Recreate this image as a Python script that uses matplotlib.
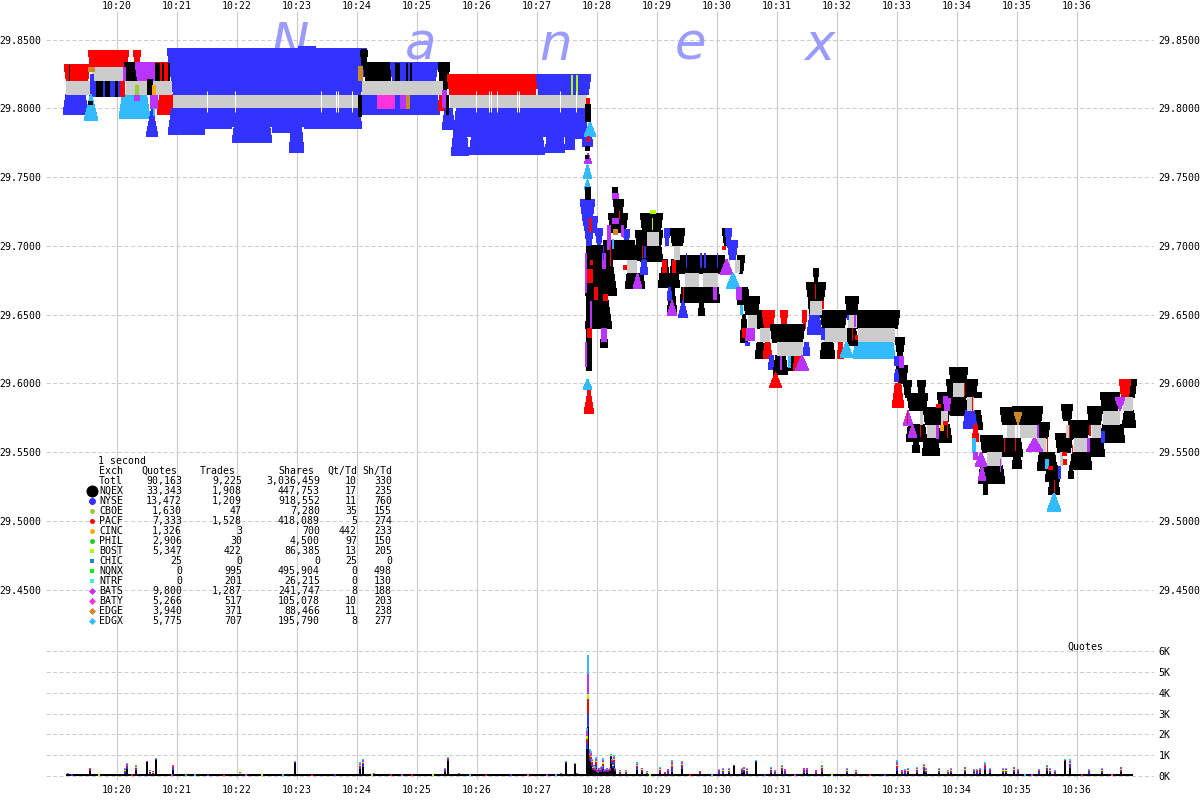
import numpy as np
import matplotlib
matplotlib.use("Agg")
import matplotlib.pyplot as plt

# time axis: seconds after 10:18:03, one second per pixel
TICK_SECONDS = [117, 177, 237, 297, 357, 417, 477, 537, 597, 657, 717, 777, 837, 897, 957, 1017, 1077]
TICK_LABELS = ["10:20", "10:21", "10:22", "10:23", "10:24", "10:25", "10:26", "10:27", "10:28",
               "10:29", "10:30", "10:31", "10:32", "10:33", "10:34", "10:35", "10:36"]
PRICE_TICKS = [29.85, 29.80, 29.75, 29.70, 29.65, 29.60, 29.55, 29.50, 29.45]
COUNT_TICKS = [0, 1000, 2000, 3000, 4000, 5000, 6000]
COUNT_LABELS = ["0K", "1K", "2K", "3K", "4K", "5K", "6K"]

COLORS = {"NQEX": "#000000", "NYSE": "#3333ff", "CBOE": "#99cc33", "PACF": "#ff0000", "CINC": "#ffaa00",
          "PHIL": "#22cc22", "BOST": "#aaff00", "CHIC": "#1e88cc", "NQNX": "#00ee00", "NTRF": "#33ffbb",
          "BATS": "#bb33ff", "BATY": "#ff33dd", "EDGE": "#cc8822", "EDGX": "#33bbff"}

# NBBO spread: start, end, bid (ask is one cent above)
SPREADS = [(66, 90, 29.81), (92, 123, 29.82), (126, 172, 29.81), (173, 358, 29.80), (362, 443, 29.81),
           (450, 587, 29.80), (627, 637, 29.68), (647, 659, 29.70), (674, 680, 29.69), (685, 699, 29.67),
           (703, 718, 29.67), (725, 730, 29.68), (735, 740, 29.68), (748, 757, 29.64), (760, 770, 29.63),
           (777, 803, 29.62), (810, 822, 29.65), (824, 847, 29.63), (848, 857, 29.64), (858, 895, 29.63),
           (920, 923, 29.57), (927, 938, 29.56), (941, 948, 29.57), (953, 964, 29.59), (967, 974, 29.58),
           (987, 1002, 29.54), (1007, 1015, 29.56), (1020, 1037, 29.56), (1037, 1046, 29.55),
           (1060, 1063, 29.54), (1066, 1069, 29.56), (1074, 1088, 29.55), (1092, 1101, 29.56),
           (1103, 1120, 29.57), (1123, 1133, 29.58)]

# offers: start, end, price, displayed size, exchange
ASK_QUOTES = [
    (64, 90, 29.82, 16, "PACF"), (88, 129, 29.83, 17, "PACF"), (133, 141, 29.83, 17, "PACF"),
    (124, 141, 29.82, 18, "NQEX"), (135, 157, 29.82, 18, "BATS"), (155, 172, 29.82, 18, "PACF"),
    (167, 367, 29.81, 46, "NYSE"), (298, 316, 29.81, 48, "NYSE"), (360, 368, 29.83, 17, "NQEX"),
    (363, 393, 29.82, 18, "NQEX"), (390, 438, 29.82, 18, "NYSE"), (438, 450, 29.81, 32, "NQEX"),
    (447, 538, 29.81, 20, "PACF"), (536, 591, 29.81, 20, "NYSE"),
    (580, 595, 29.715, 26, "NYSE"), (584, 594, 29.70, 22, "NYSE"),
    (612, 618, 29.738, 6, "NQEX"), (612, 619, 29.734, 6, "BATS"), (613, 624, 29.724, 13, "NQEX"),
    (608, 628, 29.71, 19, "NQEX"), (623, 630, 29.70, 16, "NYSE"), (595, 603, 29.70, 17, "NYSE"),
    (590, 598, 29.71, 16, "NYSE"), (603, 635, 29.69, 19, "NQEX"), (625, 642, 29.69, 14, "NQEX"),
    (640, 663, 29.71, 19, "NQEX"), (650, 656, 29.7235, 3, "BOST"), (635, 663, 29.70, 15, "NQEX"),
    (664, 670, 29.70, 17, "NYSE"), (670, 685, 29.70, 17, "NQEX"), (678, 725, 29.68, 18, "NQEX"),
    (722, 731, 29.70, 17, "NQEX"), (725, 732, 29.70, 17, "NYSE"), (727, 738, 29.69, 19, "NYSE"),
    (737, 745, 29.68, 18, "NQEX"), (743, 760, 29.65, 18, "NQEX"), (755, 775, 29.64, 18, "NQEX"),
    (762, 775, 29.64, 18, "PACF"), (780, 788, 29.64, 18, "PACF"), (802, 807, 29.64, 18, "PACF"),
    (770, 805, 29.63, 18, "NQEX"), (813, 819, 29.673, 14, "NQEX"), (806, 826, 29.66, 18, "NQEX"),
    (808, 822, 29.65, 13, "NQEX"), (820, 847, 29.64, 18, "NQEX"), (845, 859, 29.65, 18, "NQEX"),
    (847, 900, 29.64, 18, "NQEX"), (895, 905, 29.62, 18, "NQEX"), (896, 908, 29.60, 18, "NQEX"),
    (903, 912, 29.59, 17, "NQEX"), (917, 926, 29.59, 17, "NQEX"), (907, 928, 29.58, 17, "NQEX"),
    (923, 950, 29.57, 17, "NQEX"), (937, 952, 29.58, 18, "NQEX"), (943, 951, 29.58, 14, "BATS"),
    (949, 968, 29.60, 16, "NQEX"), (946, 978, 29.59, 18, "NQEX"), (967, 982, 29.59, 5, "NQEX"),
    (980, 1003, 29.55, 17, "NQEX"), (1000, 1017, 29.57, 17, "NQEX"), (1012, 1043, 29.57, 18, "NQEX"),
    (1035, 1050, 29.56, 16, "NQEX"), (1055, 1073, 29.55, 19, "NQEX"), (1061, 1073, 29.5733, 16, "NQEX"),
    (1068, 1090, 29.56, 18, "NQEX"), (1087, 1103, 29.57, 18, "NQEX"), (1100, 1120, 29.58, 18, "NQEX"),
    (1122, 1137, 29.59, 18, "NQEX"), (1119, 1131, 29.59, 18, "PACF"),
]

# bids: start, end, price, displayed size, exchange
BID_QUOTES = [
    (63, 88, 29.81, 20, "NYSE"), (89, 124, 29.82, 16, "NYSE"), (119, 150, 29.81, 24, "EDGX"),
    (157, 175, 29.81, 20, "PACF"), (168, 205, 29.80, 26, "NYSE"), (205, 232, 29.80, 20, "NYSE"),
    (232, 272, 29.80, 34, "NYSE"), (272, 292, 29.80, 24, "NYSE"), (289, 304, 29.80, 44, "NYSE"),
    (304, 362, 29.80, 20, "NYSE"), (170, 360, 29.80, 18, "NYSE"), (360, 440, 29.81, 20, "NYSE"),
    (438, 445, 29.81, 16, "PACF"),
    (442, 455, 29.80, 21, "NYSE"), (451, 469, 29.80, 47.5, "NYSE"), (469, 545, 29.80, 46, "NYSE"),
    (545, 565, 29.80, 44, "NYSE"), (565, 575, 29.80, 41, "NYSE"), (575, 588, 29.80, 30, "NYSE"),
    (456, 586, 29.80, 28, "NYSE"), (582, 593, 29.78, 11, "NYSE"),
    (585, 617, 29.70, 50, "NQEX"), (585, 612, 29.665, 35, "NQEX"), (600, 608, 29.64, 19, "NQEX"),
    (640, 663, 29.70, 16, "NQEX"), (635, 647, 29.71, 28, "NQEX"),
    (625, 645, 29.68, 15, "NQEX"), (640, 648, 29.69, 15, "NYSE"), (660, 670, 29.69, 24, "NQEX"),
    (670, 680, 29.69, 14, "NQEX"), (658, 680, 29.68, 14, "NQEX"), (667, 677, 29.67, 28, "NQEX"),
    (667, 672, 29.67, 13, "NYSE"), (680, 720, 29.67, 15, "NQEX"), (698, 705, 29.66, 15, "NQEX"),
    (737, 750, 29.67, 17, "NQEX"), (740, 748, 29.65, 28, "NQEX"), (755, 765, 29.63, 16, "NQEX"),
    (763, 772, 29.63, 16, "PACF"), (768, 775, 29.62, 14, "NYSE"), (773, 788, 29.62, 19, "NQEX"),
    (788, 800, 29.62, 15, "NQEX"), (793, 802, 29.62, 15, "PACF"), (803, 810, 29.63, 13, "NYSE"),
    (807, 822, 29.65, 20, "NYSE"), (820, 835, 29.63, 16, "NQEX"), (837, 844, 29.63, 16, "PACF"),
    (853, 895, 29.63, 16, "EDGX"), (845, 858, 29.64, 17, "NQEX"), (892, 904, 29.60, 24, "PACF"),
    (894, 899, 29.61, 12, "NYSE"), (906, 927, 29.57, 17, "NQEX"), (922, 952, 29.56, 3, "NQEX"),
    (922, 940, 29.56, 17, "NQEX"), (912, 920, 29.56, 14, "NQEX"), (938, 952, 29.57, 18, "NQEX"),
    (950, 968, 29.59, 18, "NQEX"), (973, 983, 29.58, 19, "NQEX"), (963, 977, 29.58, 18, "NYSE"),
    (972, 979, 29.57, 17, "PACF"), (978, 1005, 29.54, 18, "NQEX"), (983, 988, 29.53, 15, "NQEX"),
    (1000, 1023, 29.56, 18, "NQEX"), (1012, 1022, 29.55, 16, "NQEX"), (1037, 1057, 29.55, 18, "NQEX"),
    (1045, 1060, 29.54, 16, "NQEX"), (1048, 1060, 29.53, 15, "NQEX"), (1070, 1092, 29.55, 17, "NQEX"),
    (1087, 1105, 29.56, 18, "NQEX"), (1100, 1125, 29.57, 18, "NQEX"), (1122, 1136, 29.58, 17, "NQEX"),
    (1068, 1074, 29.54, 13, "NQEX"),
]

# single quotes: start, end, price, size (positive offer, negative bid), exchange
SINGLE_QUOTES = [
    (84, 98, 29.81, -26, "EDGX"), (146, 158, 29.80, -28, "NYSE"), (584, 596, 29.79, -14, "EDGX"),
    (584, 592, 29.767, -10, "BATS"), (583, 592, 29.759, -14, "EDGX"), (584, 591, 29.748, -10, "EDGX"),
    (584, 594, 29.5975, -27, "PACF"), (583, 592, 29.603, -10, "EDGX"), (633, 642, 29.68, -15, "BATS"),
    (667, 677, 29.66, -15, "BATS"), (678, 688, 29.66, -17, "NYSE"), (720, 733, 29.69, -15, "BATS"),
    (726, 740, 29.68, -15, "EDGX"), (840, 853, 29.63, -15, "EDGX"), (769, 782, 29.6075, -15, "PACF"),
    (795, 809, 29.62, -15, "BATS"), (903, 913, 29.58, -15, "BATS"), (908, 917, 29.57, -13, "BATS"),
    (975, 987, 29.55, -14, "BATS"), (978, 986, 29.54, -15, "BATS"), (1047, 1061, 29.52, -18, "EDGX"),
    (1026, 1043, 29.56, -13, "BATS"), (1014, 1022, 29.57, 12, "EDGE"), (1115, 1125, 29.58, 13, "BATS"),
]

# short-lived quotes painted over the spread: start, end, price, size, exchange
THIN_QUOTES = [
    (69, 70, 29.82, 16, "NQEX"), (96, 103, 29.82, -16, "NQEX"), (105, 110, 29.82, -16, "NQEX"),
    (115, 118, 29.82, -16, "NQEX"), (120, 125, 29.82, -16, "PACF"), (88, 95, 29.83, -5, "EDGE"),
    (90, 94, 29.825, -15, "NYSE"), (88, 93, 29.805, -4, "NQEX"), (123, 126, 29.83, -14, "BATS"),
    (155, 160, 29.82, 18, "NQEX"), (162, 164, 29.82, 18, "NQEX"), (168, 170, 29.82, 18, "NQEX"),
    (135, 139, 29.81, 10, "CBOE"), (147, 153, 29.81, 16, "NQEX"), (152, 156, 29.81, 10, "CINC"),
    (150, 158, 29.81, -14, "BATS"), (153, 155, 29.80, -8, "EDGX"), (134, 140, 29.81, -6, "BATS"),
    (361, 367, 29.84, 4, "NQEX"), (358, 363, 29.82, 15, "EDGE"), (395, 400, 29.82, 18, "NQEX"),
    (406, 408, 29.82, 18, "NQEX"), (410, 412, 29.82, 18, "NQEX"), (377, 385, 29.81, -14, "BATY"),
    (385, 395, 29.81, -14, "BATY"), (400, 408, 29.81, -14, "BATS"), (406, 410, 29.81, -14, "EDGE"),
    (358, 362, 29.81, -22, "NQEX"), (439, 445, 29.81, -14, "PACF"), (442, 447, 29.80, 18, "BATS"),
    (446, 449, 29.81, -20, "NQEX"), (571, 573, 29.81, 20, "BOST"), (576, 578, 29.81, 20, "BOST"),
    (586, 590, 29.8075, -7, "PACF"), (585, 591, 29.803, -18, "NQEX"), (587, 590, 29.78, -6, "PACF"),
    (585, 590, 29.7726, -5, "NQEX"), (585, 589, 29.766, -4, "NQEX"),
    (585, 591, 29.743, -13, "NQEX"), (586, 592, 29.70, -125, "NQEX"), (585, 587, 29.695, -40, "BATS"),
    (585, 587, 29.63, -25, "BATS"), (590, 592, 29.66, -30, "BATS"), (587, 593, 29.683, -14, "PACF"),
    (587, 592, 29.64, -10, "PACF"), (590, 593, 29.69, -5, "PACF"), (594, 598, 29.67, -13, "PACF"),
    (603, 608, 29.665, -7, "PACF"), (601, 607, 29.64, -14, "BATS"), (602, 606, 29.695, -16, "BATS"),
    (607, 611, 29.715, -25, "BATS"), (603, 604, 29.70, -14, "NYSE"), (610, 611, 29.70, -20, "PACF"),
    (589, 592, 29.72, -14, "PACF"), (612, 619, 29.72, -6, "BATS"), (613, 618, 29.712, -6, "EDGE"),
    (612, 614, 29.705, -10, "EDGX"), (619, 620, 29.725, -8, "PACF"), (621, 624, 29.715, -12, "BATS"),
    (642, 643, 29.70, -12, "PACF"), (644, 646, 29.70, -12, "NYSE"), (652, 653, 29.72, -12, "BOST"),
    (662, 667, 29.69, -13, "PACF"), (672, 676, 29.69, -13, "PACF"), (623, 627, 29.686, -5, "PACF"),
    (683, 684, 29.67, -13, "PACF"), (713, 717, 29.67, -13, "BATS"), (686, 687, 29.695, -15, "NYSE"),
    (700, 702, 29.695, -15, "NYSE"), (704, 706, 29.695, -15, "NYSE"), (717, 718, 29.695, -15, "NYSE"),
    (722, 726, 29.70, -4, "PACF"), (736, 742, 29.67, -13, "BATS"), (740, 743, 29.65, 10, "EDGX"),
    (745, 755, 29.64, -13, "BATS"), (745, 750, 29.63, -4, "NYSE"), (742, 746, 29.64, -10, "PACF"),
    (815, 816, 29.672, -15, "PACF"), (822, 824, 29.66, -8, "PACF"), (852, 853, 29.64, -13, "PACF"),
    (855, 858, 29.635, -5, "PACF"), (854, 856, 29.65, -12, "BATS"), (847, 849, 29.65, -5, "NYSE"),
    (821, 825, 29.64, -12, "NYSE"), (780, 782, 29.62, -14, "BATS"), (788, 791, 29.62, -12, "EDGX"),
    (907, 908, 29.58, -13, "PACF"), (920, 921, 29.57, -12, "PACF"), (947, 948, 29.57, -13, "PACF"),
    (964, 965, 29.60, -13, "PACF"), (972, 973, 29.59, -15, "PACF"), (1004, 1005, 29.56, -14, "PACF"),
    (1015, 1016, 29.56, -13, "PACF"), (1047, 1048, 29.56, -14, "PACF"), (1054, 1055, 29.53, -13, "PACF"),
    (1063, 1067, 29.545, -6, "PACF"), (1069, 1070, 29.57, -13, "PACF"), (1072, 1073, 29.555, -8, "PACF"),
    (1089, 1091, 29.57, -11, "PACF"), (1037, 1039, 29.57, -13, "BATS"), (1087, 1090, 29.56, -14, "BATS"),
    (936, 939, 29.57, -14, "BATS"), (1000, 1001, 29.545, -13, "BATS"), (1101, 1105, 29.565, -12, "NYSE"),
    (972, 976, 29.56, -15, "EDGX"), (1045, 1049, 29.545, -10, "EDGX"), (1048, 1053, 29.54, -4, "PACF"),
    (1058, 1061, 29.54, -13, "NYSE"), (1062, 1067, 29.55, -4, "PACF"), (973, 978, 29.55, -8, "BATS"),
    (894, 899, 29.62, -10, "NYSE"), (899, 904, 29.62, -12, "BATS"), (936, 941, 29.585, -4, "PACF"),
    (943, 948, 29.57, 4, "PACF"), (940, 944, 29.57, -6, "CINC"),
]

# momentary gaps in the quoted spread
GAP_SECONDS = [207, 235, 321, 336, 338, 352, 476, 489, 491, 497, 517, 519, 560, 576]

# one-second quote counts
QUOTE_SECONDS = [68, 90, 125, 127, 136, 147, 150, 153, 156, 173,
                 240, 295, 360, 363, 374, 378, 445, 448, 459, 534,
                 561, 566, 575, 577, 587, 588, 590, 591, 596, 601,
                 603, 607, 611, 614, 620, 626, 637, 642, 647, 660,
                 665, 668, 672, 682, 700, 719, 723, 729, 734, 742,
                 744, 747, 756, 771, 775, 782, 785, 804, 807, 816,
                 822, 847, 856, 897, 902, 905, 908, 917, 924, 926,
                 939, 948, 951, 965, 974, 977, 980, 985, 990, 1003,
                 1006, 1014, 1018, 1039, 1047, 1050, 1055, 1065, 1070, 1089,
                 1102, 1121,
                 592, 593, 594, 595, 597, 598, 599, 600, 602, 604, 605, 606, 608, 609, 610, 612, 613, 615]
QUOTES_NQEX = [40, 250, 100, 350, 250, 650, 120, 60, 780, 300,
               30, 640, 330, 450, 40, 20, 170, 700, 40, 30,
               40, 630, 560, 60, 1300, 2350, 700, 650, 400, 200,
               350, 200, 900, 500, 100, 100, 300, 200, 80, 150,
               60, 120, 200, 350, 100, 100, 120, 130, 500, 150,
               180, 120, 680, 150, 90, 250, 120, 150, 150, 80,
               200, 130, 100, 250, 80, 100, 130, 150, 250, 130,
               130, 100, 130, 170, 100, 100, 130, 270, 150, 130,
               130, 170, 100, 100, 230, 130, 90, 700, 380, 100,
               130, 170,
               500, 300, 350, 250, 200, 150, 250, 200, 300, 180, 200, 220, 200, 220, 260, 600, 400, 250]
QUOTES_NYSE = [30, 40, 90, 80, 90, 20, 50, 60, 20, 80,
               50, 20, 100, 110, 30, 30, 70, 60, 30, 20,
               30, 20, 10, 30, 300, 690, 180, 170, 150, 80,
               150, 60, 50, 150, 60, 60, 110, 60, 50, 90,
               40, 70, 170, 110, 50, 80, 80, 80, 20, 80,
               80, 80, 20, 90, 60, 90, 70, 80, 80, 70,
               110, 80, 60, 150, 70, 80, 80, 90, 110, 80,
               80, 60, 80, 80, 80, 80, 80, 110, 80, 80,
               80, 80, 80, 80, 100, 80, 60, 30, 130, 80,
               80, 80,
               100, 60, 60, 50, 40, 30, 40, 40, 50, 40, 40, 40, 40, 40, 40, 60, 60, 40]
QUOTES_PACF = [20, 30, 60, 50, 60, 10, 40, 40, 10, 50,
               30, 10, 60, 70, 20, 20, 50, 40, 20, 10,
               20, 10, 10, 20, 200, 640, 120, 110, 100, 50,
               100, 40, 30, 100, 40, 40, 70, 40, 30, 60,
               30, 50, 110, 70, 30, 50, 60, 50, 10, 50,
               50, 60, 10, 60, 40, 60, 50, 50, 50, 40,
               70, 50, 40, 100, 40, 50, 50, 60, 70, 50,
               50, 40, 50, 60, 50, 50, 60, 80, 50, 50,
               50, 60, 50, 50, 60, 50, 40, 20, 80, 50,
               50, 60,
               70, 40, 40, 30, 30, 20, 30, 30, 30, 30, 30, 30, 30, 30, 30, 40, 40, 30]
QUOTES_BOST = [10, 10, 30, 20, 30, 10, 20, 20, 10, 20,
               20, 10, 30, 30, 10, 10, 20, 20, 10, 10,
               10, 10, 0, 10, 100, 270, 60, 50, 50, 20,
               50, 20, 20, 50, 20, 20, 30, 20, 20, 30,
               10, 20, 50, 30, 10, 20, 30, 30, 0, 20,
               30, 30, 10, 30, 20, 30, 20, 30, 30, 20,
               30, 30, 20, 50, 20, 20, 30, 30, 30, 30,
               30, 20, 30, 30, 20, 20, 30, 40, 20, 30,
               30, 30, 20, 20, 30, 30, 20, 10, 40, 20,
               30, 30,
               30, 20, 20, 20, 10, 10, 20, 10, 20, 10, 10, 10, 10, 10, 10, 20, 20, 10]
QUOTES_BATS = [30, 40, 70, 60, 70, 10, 40, 40, 20, 60,
               40, 10, 80, 90, 30, 20, 50, 50, 30, 20,
               30, 20, 10, 20, 250, 950, 150, 130, 120, 60,
               120, 50, 30, 120, 50, 50, 90, 50, 40, 70,
               40, 60, 140, 90, 40, 60, 70, 70, 10, 60,
               70, 70, 20, 70, 50, 70, 60, 60, 60, 60,
               90, 70, 50, 120, 60, 60, 70, 70, 90, 70,
               70, 50, 70, 70, 60, 60, 60, 90, 60, 70,
               70, 70, 60, 60, 80, 70, 50, 30, 110, 60,
               70, 70,
               80, 50, 50, 40, 30, 30, 40, 30, 40, 30, 30, 40, 30, 30, 40, 50, 50, 30]
QUOTES_EDGX = [20, 30, 50, 40, 50, 10, 30, 30, 10, 40,
               30, 10, 50, 50, 20, 20, 40, 30, 20, 10,
               20, 10, 10, 10, 150, 920, 90, 90, 80, 40,
               80, 30, 20, 80, 30, 30, 50, 30, 30, 50,
               20, 30, 80, 50, 20, 40, 40, 40, 10, 40,
               40, 40, 10, 50, 40, 50, 30, 30, 30, 30,
               50, 40, 30, 80, 30, 40, 40, 50, 50, 40,
               40, 30, 40, 40, 40, 40, 30, 60, 40, 40,
               40, 40, 40, 40, 50, 40, 40, 10, 60, 40,
               40, 40,
               40, 30, 30, 20, 20, 20, 20, 20, 30, 20, 20, 20, 20, 20, 20, 30, 30, 20]
QUOTE_FLOOR = 45
SESSION_SPAN = (66, 1133)
SPECK_SECONDS = [72, 99, 132, 172, 186, 195, 208, 224, 246, 262, 283, 312, 335, 372, 391, 402, 412, 433, 470,
                 486, 511, 528, 547, 556, 650, 690, 712, 765, 795, 832, 870, 885, 1025, 1032, 1082, 1112]
SPECK_EXCH = ["NYSE", "BOST", "PACF", "BATS", "PHIL", "EDGX", "NYSE", "PACF", "BATY", "BOST", "EDGX", "PACF", "NYSE",
              "BOST", "PACF", "BATS", "PACF", "BOST", "EDGX", "PACF", "NYSE", "BATY", "BATS", "EDGX", "BOST", "PACF",
              "EDGX", "NYSE", "BATS", "BOST", "PACF", "NYSE", "EDGX", "BATS", "PACF", "BATY"]

# summary table
TABLE_EXCH = ["Totl", "NQEX", "NYSE", "CBOE", "PACF", "CINC", "PHIL", "BOST", "CHIC", "NQNX", "NTRF", "BATS", "BATY", "EDGE", "EDGX"]
TABLE_QUOTES = ["90,163", "33,343", "13,472", "1,630", "7,333", "1,326", "2,906", "5,347", "25", "0", "0", "9,800", "5,266", "3,940", "5,775"]
TABLE_TRADES = ["9,225", "1,908", "1,209", "47", "1,528", "3", "30", "422", "0", "995", "201", "1,287", "517", "371", "707"]
TABLE_SHARES = ["3,036,459", "447,753", "918,552", "7,280", "418,089", "700", "4,500", "86,385", "0", "495,904", "26,215", "241,747", "105,078", "88,466", "195,790"]
TABLE_QT_TD = ["10", "17", "11", "35", "5", "442", "97", "13", "25", "0", "0", "8", "10", "11", "8"]
TABLE_SH_TD = ["330", "235", "760", "155", "274", "233", "150", "205", "0", "498", "130", "188", "203", "238", "277"]
LEGEND_MARKERS = [None, "o", "o", "o", "o", "o", "o", "s", "s", "s", "s", "D", "D", "D", "D"]
LEGEND_SIZES = [0, 12, 7, 5, 5, 5, 5, 5, 5, 5, 5, 5, 5, 5, 5]

W, H = 1200, 800
GRID = "#cccccc"
MONO = "DejaVu Sans Mono"
FS = 7.1
PX_PER_DOLLAR = 1375.0


def place(fig, left, top, right, bottom):
    return fig.add_axes([left / W, 1 - bottom / H, (right - left) / W, (bottom - top) / H])


fig = plt.figure(figsize=(W / 100, H / 100), dpi=100, facecolor="white")
ax = place(fig, 46, 12, 1154, 640)
ax2 = place(fig, 46, 640, 1154, 780)


def price_at(y):
    return 29.80 + (108.3 - y) / PX_PER_DOLLAR


ax.set_xlim(46, 1154)
ax.set_ylim(price_at(640), price_at(12))
ax2.set_xlim(46, 1154)
ax2.set_ylim((776 - 780) * 48.0, (776 - 640) * 48.0)

for a in (ax, ax2):
    for s in a.spines.values():
        s.set_visible(False)
    a.set_xticks(TICK_SECONDS)
    a.set_axisbelow(True)
    a.grid(True, axis="x", color=GRID, lw=0.85, ls="-")
    a.grid(True, axis="y", color=GRID, lw=0.72, ls=(0, (4, 2.5)))
    a.patch.set_alpha(0)

ax.xaxis.tick_top()
ax.set_xticklabels(TICK_LABELS, family=MONO, fontsize=FS)
ax.tick_params(axis="x", length=0, pad=0.5)
ax.set_yticks(PRICE_TICKS)
ax.set_yticklabels([f"{p:.4f}" for p in PRICE_TICKS], family=MONO, fontsize=FS)
ax.tick_params(axis="y", length=0, pad=3.3, labelleft=True, labelright=True)

ax2.set_xticklabels(TICK_LABELS, family=MONO, fontsize=FS)
ax2.tick_params(axis="x", length=0, pad=3.5)
ax2.set_yticks(COUNT_TICKS)
ax2.set_yticklabels(COUNT_LABELS, family=MONO, fontsize=FS)
ax2.yaxis.tick_right()
ax2.tick_params(axis="y", length=0, pad=3.3)

# watermark
for letter, cx in zip("Nanex", [290, 421, 555, 690, 820]):
    ax.text(cx, price_at(60), letter, family="DejaVu Sans", style="italic", fontsize=37, color="#9a9aff",
            ha="center", va="baseline", zorder=1.5)


def draw_wedge(t0, t1, price, size, exch, inset, z):
    p_far = price + size / PX_PER_DOLLAR
    ax.fill([t0 + inset, t1 - inset, t1, t0], [price, price, p_far, p_far], color=COLORS[exch], lw=0,
            antialiased=False, zorder=z)


def tapered(t0, t1, size):
    return min(0.14 * abs(size), 0.3 * (t1 - t0))


for t0, t1, p, s, e in ASK_QUOTES:
    draw_wedge(t0, t1, p, s, e, tapered(t0, t1, s), 3)
for t0, t1, p, s, e in BID_QUOTES:
    draw_wedge(t0, t1, p, -s, e, tapered(t0, t1, s), 3)
for t0, t1, bid in SPREADS:
    ax.fill([t0, t1, t1, t0], [bid, bid, bid + 0.01, bid + 0.01], color="#cccccc", lw=0, antialiased=False, zorder=4)
for t0, t1, p, s, e in SINGLE_QUOTES:
    draw_wedge(t0, t1, p, s, e, 0.47 * (t1 - t0), 5)
for t0, t1, p, s, e in THIN_QUOTES:
    draw_wedge(t0, t1, p, s, e, 0, 5)
ax.vlines(GAP_SECONDS, 29.797, 29.8125, color="white", lw=0.72, zorder=6)

# quote counts
bottom = np.zeros(len(QUOTE_SECONDS))
layers = [("NQEX", QUOTES_NQEX), ("NYSE", QUOTES_NYSE), ("PACF", QUOTES_PACF),
          ("BOST", QUOTES_BOST), ("BATS", QUOTES_BATS), ("EDGX", QUOTES_EDGX)]
for name, vals in layers:
    vals = np.array(vals, dtype=float)
    ax2.bar(QUOTE_SECONDS, vals, width=1.35, bottom=bottom, color=COLORS[name], lw=0, antialiased=False, zorder=3)
    bottom += vals
ax2.hlines(QUOTE_FLOOR, *SESSION_SPAN, color="black", lw=1.44, zorder=3)
ax2.bar(SPECK_SECONDS, [90] * len(SPECK_SECONDS), width=2, color=[COLORS[e] for e in SPECK_EXCH], lw=0,
        antialiased=False, zorder=4)

# overlay for the table
ov = fig.add_axes([0, 0, 1, 1], zorder=10)
ov.set_xlim(0, W)
ov.set_ylim(H, 0)
ov.axis("off")
ov.patch.set_alpha(0)


def t(x, y, s, ha="right"):
    ov.text(x, y, s, family=MONO, fontsize=FS, ha=ha, va="center", color="black")


t(98, 461, "1 second", "left")
t(99, 471, "Exch", "left")
t(177, 471, "Quotes")
t(236, 471, "Trades")
t(314, 471, "Shares")
t(357, 471, "Qt/Td")
t(392, 471, "Sh/Td")
for i, ex in enumerate(TABLE_EXCH):
    y = 481 + 10 * i
    t(99, y, ex, "left")
    t(182, y, TABLE_QUOTES[i])
    t(242, y, TABLE_TRADES[i])
    t(320, y, TABLE_SHARES[i])
    t(357, y, TABLE_QT_TD[i])
    t(392, y, TABLE_SH_TD[i])
    if LEGEND_MARKERS[i]:
        ms = LEGEND_SIZES[i] * 0.72
        ov.plot([91.5], [y], marker=LEGEND_MARKERS[i], ms=ms, color=COLORS[ex], mew=0, ls="none")
t(1067, 647, "Quotes", "left")

fig.savefig("out.png", dpi=100, facecolor="white")
